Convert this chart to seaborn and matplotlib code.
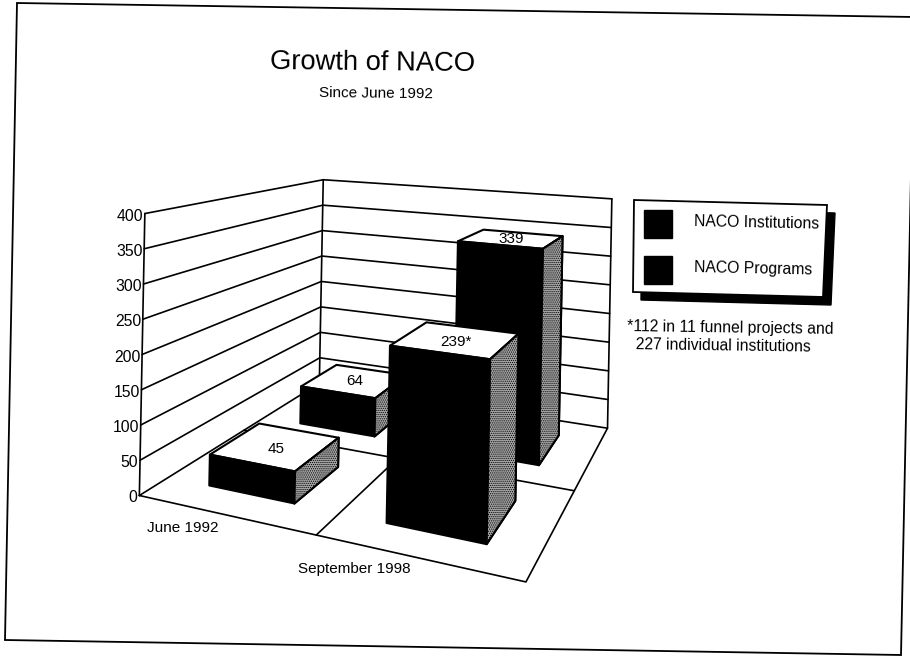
import numpy as np
import seaborn as sns
import matplotlib.pyplot as plt
from matplotlib.colors import to_rgba
from matplotlib.patches import Patch, Polygon
from matplotlib.lines import Line2D
from mpl_toolkits.mplot3d import art3d

dates = ['June 1992', 'September 1998']
series = ['NACO Institutions', 'NACO Programs']
programs = [45, 239]
institutions = [64, 339]
bar_labels_programs = ['45', '239*']
bar_labels_institutions = ['64', '339']
z_ticks = [0, 50, 100, 150, 200, 250, 300, 350, 400]
note = '*112 in 11 funnel projects and\n  227 individual institutions'

sns.set_theme(style='white', rc={'hatch.linewidth': 0.6})
plt.rcParams['font.family'] = ['Liberation Sans', 'DejaVu Sans']

W, H = 910, 658
fig = plt.figure(figsize=(W / 100, H / 100), dpi=100)
ax = fig.add_axes([0, 0, 1, 1], projection='3d')
ax.set_axis_off()
ax.set_xticks([])
ax.set_yticks([])
ax.set_zticks([])
ax.xaxis.set_visible(False)
ax.yaxis.set_visible(False)
ax.zaxis.set_visible(False)
ax.computed_zorder = False


# the scan has an oblique camera mplot3d can't do, so fit the projection to the box corners
def fit_projection():
    box = [(0, 0, 0), (2, 0, 0), (0, 2, 0), (2, 2, 0), (0, 0, 1), (0, 2, 1), (2, 2, 1)]
    pix = [(140, 496), (525, 582), (319, 383), (608, 428), (145, 213), (323, 180), (612, 199)]
    rows = []
    for (x, y, z), (u, v) in zip(box, pix):
        u, v = 2 * u / W - 1, 1 - 2 * v / H
        rows.append([x, y, z, 1, 0, 0, 0, 0, -u * x, -u * y, -u * z, -u])
        rows.append([0, 0, 0, 0, x, y, z, 1, -v * x, -v * y, -v * z, -v])
    p = np.linalg.svd(np.array(rows))[2][-1].reshape(3, 4)
    p = p / p[2, 3]
    p[:, 2] /= 400
    return np.array([p[0], p[1], [-0.05, 0.1, 0.0, -1.0], p[2]])


M = fit_projection()
ax.get_proj = lambda: M
ax.apply_aspect = lambda position=None: None
ax.set_position([0, 0, 1, 1])
ax.viewLim.intervalx = (-1, 1)
ax.viewLim.intervaly = (-1, 1)

lw = 1.2
# walls and floor
for t in z_ticks[1:]:
    ax.plot([0, 0, 2], [0, 2, 2], [t, t, t], color='black', lw=lw, zorder=1)
for x, y in [(0, 0), (0, 2), (2, 2)]:
    ax.plot([x, x], [y, y], [0, 400], color='black', lw=lw, zorder=1)
ax.plot([0, 2, 2, 0, 0], [0, 0, 2, 2, 0], [0, 0, 0, 0, 0], color='black', lw=lw, zorder=1)
ax.plot([1, 1], [0, 2], [0, 0], color='black', lw=lw, zorder=1)
ax.plot([0, 2], [1, 1], [0, 0], color='black', lw=lw, zorder=1)

clear = to_rgba('none')
faces = [clear, to_rgba('white'), to_rgba('black'), clear, clear, to_rgba('#a8a8a8')]
edges = [clear, to_rgba('black'), to_rgba('black'), clear, clear, to_rgba('black')]


def draw_bars(values, y_pos, z0):
    for i, val in enumerate(values):
        x0 = i + 0.25
        y0 = y_pos - 0.25
        ax.bar3d(x0, y0, 0, 0.5, 0.5, val, color=faces, edgecolor=edges, shade=False,
                 linewidth=1.5, zorder=z0 + i)
        side = [[(x0 + 0.5, y0, 0), (x0 + 0.5, y0 + 0.5, 0), (x0 + 0.5, y0 + 0.5, val), (x0 + 0.5, y0, val)]]
        ax.add_collection3d(art3d.Poly3DCollection(side, facecolor='#a8a8a8', edgecolor='black',
                                                   hatch='........', linewidth=1.5, zorder=z0 + i + 0.5))


draw_bars(institutions, 1.5, 3)
draw_bars(programs, 0.5, 6)

for i in range(2):
    ax.text(i + 0.5, 1.5, institutions[i], bar_labels_institutions[i], ha='center', va='center',
            fontsize=11, color='black', zorder=20)
    ax.text(i + 0.5, 0.5, programs[i] - 4, bar_labels_programs[i], ha='center', va='center',
            fontsize=11, color='black', zorder=20)

for t in z_ticks:
    ax.text(-0.01, 0, t - 4, str(t), ha='right', va='center', fontsize=11.3, color='black', zorder=20)
ax.text(0.4, -0.2, 0, dates[0], ha='center', va='center', fontsize=11, color='black', zorder=20)
ax.text(1.29, -0.21, 0, dates[1], ha='center', va='center', fontsize=11, color='black', zorder=20)


def fx(x):
    return x / W


def fy(y):
    return 1 - y / H


fig.text(fx(373), fy(63), 'Growth of NACO', fontsize=19.7, color='black', ha='center', va='center', rotation=-0.6)
fig.text(fx(376), fy(94), 'Since June 1992', fontsize=11, color='black', ha='center', va='center', rotation=-0.6)

box = [(634, 200), (827, 205), (823, 297), (633, 292)]
fig.add_artist(Polygon([(fx(x + 8), fy(y + 8)) for x, y in box], closed=True, facecolor='black',
                       edgecolor='black', transform=fig.transFigure, zorder=2))
fig.add_artist(Polygon([(fx(x), fy(y)) for x, y in box], closed=True, facecolor='white',
                       edgecolor='black', linewidth=1.3, transform=fig.transFigure, zorder=3))
handles = [Patch(facecolor='black', edgecolor='black') for s in series]
leg = fig.legend(handles, series, loc='upper left', bbox_to_anchor=(fx(644), fy(210)), frameon=False,
                 fontsize=11.3, handlelength=1.8, handleheight=2.4, handletextpad=1.4,
                 labelspacing=1.1, borderpad=0, borderaxespad=0, labelcolor='black')
for t in leg.get_texts():
    t.set_rotation(-1.2)
fig.text(fx(627), fy(337), note, fontsize=11.3, color='black', ha='left', va='center', linespacing=1.25,
         rotation=-0.8)

# scanned page border, skewed a little
for (x0, y0), (x1, y1) in [((17, 3), (914, 17)), ((911, 175), (901, 655)), ((901, 655), (5, 640)), ((5, 640), (17, 3))]:
    fig.add_artist(Line2D([fx(x0), fx(x1)], [fy(y0), fy(y1)], color='black', lw=1.3, transform=fig.transFigure))

fig.savefig('out.png', dpi=100)
